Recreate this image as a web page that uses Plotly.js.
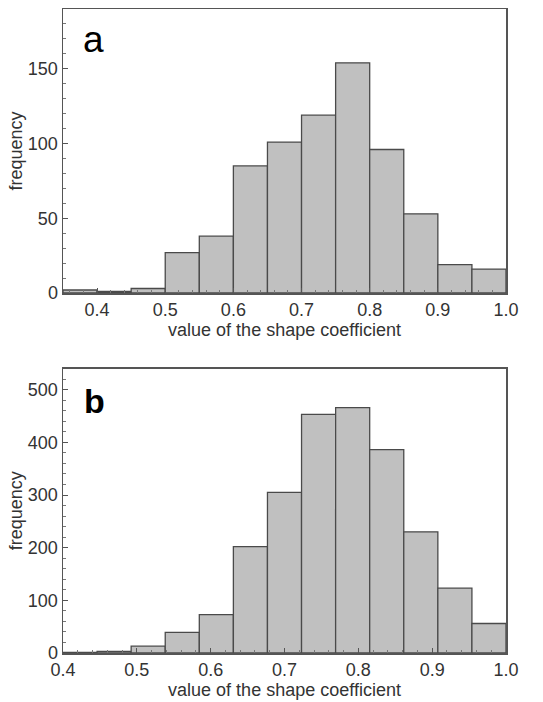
<!DOCTYPE html>
<html>
<head>
<meta charset="utf-8">
<script src="https://cdn.plot.ly/plotly-3.0.1.min.js"></script>
<style>html,body{margin:0;padding:0;background:#fff;}#chart{width:543px;height:702px;}</style>
</head>
<body>
<div id="chart"></div>
<script>
// Panel a: bin edges and counts
const edgesA = [0.35,0.40,0.45,0.50,0.55,0.60,0.65,0.70,0.75,0.80,0.85,0.90,0.95,1.00];
const countsA = [2,1,3,27,38,85,101,119,154,96,53,19,16];
// Panel b: 13 equal bins from 0.4 to 1.0
const rangeB = [0.4, 1.0];
const countsB = [1,3,13,39,73,202,305,453,466,386,230,123,56];
const xTicks = [0.4,0.5,0.6,0.7,0.8,0.9,1.0];
const xTickText = ['0.4','0.5','0.6','0.7','0.8','0.9','1.0'];
const yTicksA = [0,50,100,150];
const yTicksB = [0,100,200,300,400,500];
const panelLabels = ['a','b'];
const xTitle = 'value of the shape coefficient';
const yTitle = 'frequency';

const nB = countsB.length;
const edgesB = [];
for (let i = 0; i <= nB; i++) edgesB.push(rangeB[0] + (rangeB[1]-rangeB[0]) * i / nB);

function centers(e){ const c=[]; for(let i=0;i<e.length-1;i++) c.push((e[i]+e[i+1])/2); return c; }
function widths(e){ const w=[]; for(let i=0;i<e.length-1;i++) w.push(e[i+1]-e[i]); return w; }

const barStyle = {color:'#c0c0c0', line:{color:'#4a4a4a', width:1.3}};
const traces = [
  {type:'bar', x:centers(edgesA), y:countsA, width:widths(edgesA), marker:barStyle, xaxis:'x', yaxis:'y', hoverinfo:'x+y'},
  {type:'bar', x:centers(edgesB), y:countsB, width:widths(edgesB), marker:barStyle, xaxis:'x2', yaxis:'y2', hoverinfo:'x+y'}
];

const font = {family:'Liberation Sans, Arial, sans-serif', color:'#333', size:18};
function xax(range, anchor){
  return {range:range, anchor:anchor, tickvals:xTicks, ticktext:xTickText, ticks:'inside', ticklen:5, tickcolor:'#555',
    minor:{dtick:0.02, tick0:0, ticks:'inside', ticklen:3, tickcolor:'#777'},
    showline:true, linecolor:'#555', linewidth:1.5, mirror:true, showgrid:false, zeroline:false,
    tickfont:{size:18, color:'#333'}, title:{text:xTitle, font:{size:18, color:'#333'}, standoff:2}, fixedrange:true};
}
function yax(range, domain, anchor, ticks, minorStep){
  return {range:range, domain:domain, anchor:anchor, tickvals:ticks, ticks:'inside', ticklen:5, tickcolor:'#555',
    minor:{dtick:minorStep, ticks:'inside', ticklen:3, tickcolor:'#777'},
    showline:true, linecolor:'#555', linewidth:1.5, mirror:true, showgrid:false, zeroline:false,
    tickfont:{size:18, color:'#333'}, title:{text:yTitle, font:{size:18, color:'#333'}, standoff:0}, fixedrange:true};
}

const layout = {
  width:543, height:702,
  margin:{l:63, r:37, t:9, b:49},
  paper_bgcolor:'#fff', plot_bgcolor:'#fff',
  font:font, showlegend:false, bargap:0,
  xaxis: xax([0.35,1.0], 'y'),
  yaxis: yax([0,190], [0.559,1], 'x', yTicksA, 10),
  xaxis2: xax([0.4,1.0], 'y2'),
  yaxis2: yax([0,540], [0,0.4416], 'x2', yTicksB, 20),
  annotations:[
    {text:panelLabels[0], xref:'paper', yref:'paper', x:0.068, y:0.952, xanchor:'center', yanchor:'middle', showarrow:false, font:{size:37, color:'#000'}},
    {text:'<b>'+panelLabels[1]+'</b>', xref:'paper', yref:'paper', x:0.070, y:0.391, xanchor:'center', yanchor:'middle', showarrow:false, font:{size:34, color:'#000'}}
  ]
};

Plotly.newPlot('chart', traces, layout, {displayModeBar:false, staticPlot:true});
</script>
</body>
</html>
